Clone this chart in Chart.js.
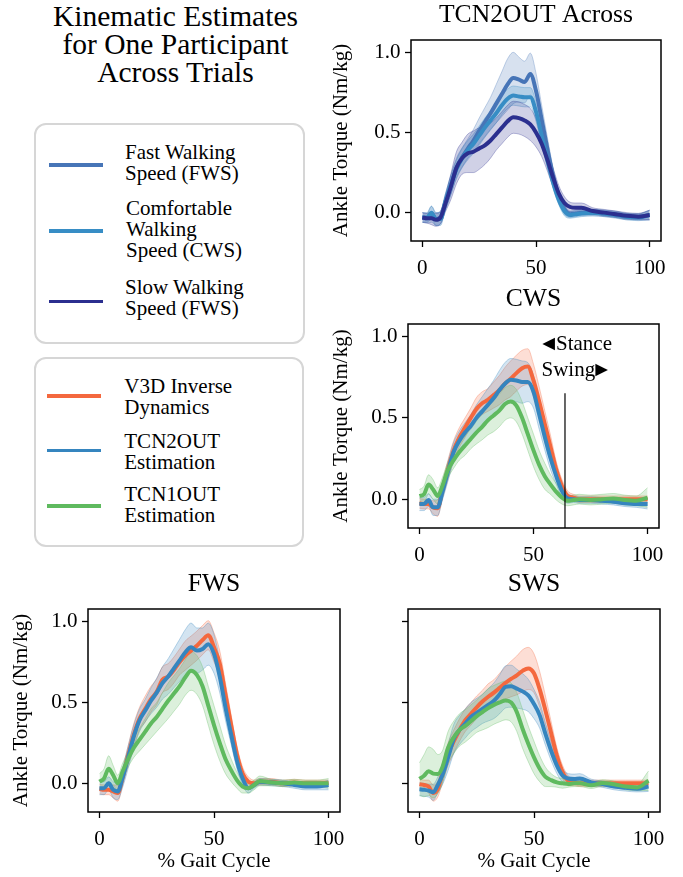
<!DOCTYPE html>
<html>
<head>
<meta charset="utf-8">
<title>Kinematic Estimates</title>
<script src="https://cdn.jsdelivr.net/npm/chart.js@4.4.1/dist/chart.umd.min.js"></script>
<style>
  html,body{margin:0;padding:0;background:#fff;}
  body{position:relative;width:683px;height:877px;overflow:hidden;color:#000;}
  .serif{font-family:'Liberation Serif','Tinos','Times New Roman','Nimbus Roman',serif;}
  canvas{position:absolute;}
  #suptitle{position:absolute;left:0;top:2px;width:351px;text-align:center;font-size:29.5px;line-height:28px;white-space:nowrap;}
  .legbox{position:absolute;border:2px solid #d6d6d6;border-radius:12px;box-sizing:border-box;background:#fff;}
  .sw{position:absolute;height:3.5px;}
  .lt{position:absolute;font-size:21px;line-height:21px;white-space:nowrap;}
  #phase{position:absolute;right:71px;top:330px;text-align:right;font-size:21px;line-height:26px;white-space:nowrap;z-index:5;}
  .arl{margin-right:-3px;}
  .arr{margin-left:-4px;}
</style>
</head>
<body>
<div id="suptitle" class="serif">Kinematic Estimates<br>for One Participant<br>Across Trials</div>

<div class="legbox" style="left:34px;top:123px;width:271px;height:221px"></div>
<div class="sw" id="sw1" style="left:49px;top:163px;width:54px"></div>
<div class="lt serif" style="left:125px;top:142.4px">Fast Walking<br>Speed (FWS)</div>
<div class="sw" id="sw2" style="left:49px;top:229px;width:54px"></div>
<div class="lt serif" style="left:126px;top:198.4px">Comfortable<br>Walking<br>Speed (CWS)</div>
<div class="sw" id="sw3" style="left:49px;top:299.6px;width:54px"></div>
<div class="lt serif" style="left:125px;top:276.7px">Slow Walking<br>Speed (FWS)</div>

<div class="legbox" style="left:34px;top:357px;width:270px;height:190px"></div>
<div class="sw" id="sw4" style="left:47px;top:394px;width:54px"></div>
<div class="lt serif" style="left:124.3px;top:375.7px">V3D Inverse<br>Dynamics</div>
<div class="sw" id="sw5" style="left:47px;top:448.6px;width:54px"></div>
<div class="lt serif" style="left:124.3px;top:430.7px">TCN2OUT<br>Estimation</div>
<div class="sw" id="sw6" style="left:47px;top:504px;width:54px"></div>
<div class="lt serif" style="left:124.3px;top:484.1px">TCN1OUT<br>Estimation</div>

<canvas id="c1" width="363" height="290" style="left:320px;top:0px"></canvas>
<canvas id="c2" width="363" height="293" style="left:320px;top:284px"></canvas>
<canvas id="c3" width="363" height="305" style="left:0px;top:569px"></canvas>
<canvas id="c4" width="363" height="305" style="left:320px;top:569px"></canvas>

<div id="phase" class="serif"><span class="arl">◄</span>Stance<br>Swing<span class="arr">►</span></div>

<script>
// ---------------- data ----------------
const X = [0,2,4,6,8,10,12.5,15,17.5,20,22.5,25,27.5,30,32.5,35,37.5,40,42.5,45,47.5,50,52.5,55,57.5,60,62.5,65,67.5,70,75,80,85,90,95,100];
const xTicks = [0,50,100];
const yTicks = [0,0.5,1.0];
const yMin = -0.177, yMax = 1.077;
const phaseX = 63.8;      // stance / swing boundary (% gait cycle)
const phaseTop = 0.652;

// Panel: TCN2OUT Across (speeds)
const acrossFWS = [
 -0.03,-0.035,-0.01,-0.04,-0.03,0.06,0.17,0.28,0.345,0.40,0.45,0.51,
 0.565,0.62,0.68,0.74,0.80,0.84,0.83,0.815,0.865,0.76,0.58,0.40,
 0.23,0.10,0.02,-0.01,-0.005,0.0,0.0,-0.005,-0.01,-0.025,-0.025,-0.015];
const acrossFWSsd = [
 0.03,0.03,0.05,0.04,0.04,0.05,0.06,0.06,0.06,0.06,0.07,0.08,
 0.09,0.10,0.12,0.14,0.16,0.16,0.14,0.13,0.13,0.11,0.09,0.07,
 0.05,0.03,0.03,0.02,0.02,0.02,0.02,0.02,0.02,0.02,0.02,0.03];
const acrossCWS = [
 -0.03,-0.03,0.0,-0.04,-0.04,0.06,0.17,0.27,0.34,0.39,0.43,0.48,
 0.53,0.575,0.62,0.67,0.71,0.73,0.725,0.72,0.72,0.63,0.48,0.33,
 0.19,0.08,0.01,-0.015,-0.01,-0.005,0.0,-0.005,-0.015,-0.025,-0.03,-0.015];
const acrossCWSsd = [
 0.03,0.03,0.04,0.04,0.04,0.05,0.06,0.06,0.06,0.06,0.06,0.06,
 0.06,0.06,0.06,0.06,0.06,0.06,0.06,0.06,0.06,0.06,0.06,0.05,
 0.04,0.03,0.03,0.02,0.02,0.02,0.02,0.02,0.02,0.02,0.02,0.03];
const acrossSWS = [
 -0.03,-0.035,-0.035,-0.045,-0.03,0.05,0.16,0.28,0.34,0.37,0.38,0.40,
 0.42,0.45,0.49,0.53,0.57,0.595,0.59,0.575,0.55,0.50,0.43,0.33,
 0.22,0.12,0.06,0.035,0.03,0.03,0.01,0.0,-0.01,-0.02,-0.025,-0.015];
const acrossSWSsd = [
 0.03,0.03,0.04,0.04,0.04,0.05,0.08,0.10,0.10,0.12,0.13,0.13,
 0.12,0.11,0.10,0.10,0.10,0.10,0.10,0.10,0.10,0.09,0.08,0.07,
 0.06,0.05,0.04,0.03,0.03,0.03,0.02,0.02,0.02,0.02,0.02,0.03];

// Panel: CWS
const cwsV3D = [
 -0.025,-0.03,-0.03,-0.05,-0.055,0.05,0.18,0.30,0.38,0.44,0.50,0.555,
 0.59,0.61,0.64,0.67,0.71,0.74,0.775,0.805,0.815,0.73,0.60,0.46,
 0.32,0.18,0.08,0.02,0.01,0.0,0.0,0.0,0.0,0.0,0.0,0.0];
const cwsV3Dsd = [
 0.03,0.03,0.03,0.04,0.05,0.05,0.06,0.06,0.06,0.06,0.06,0.07,
 0.07,0.07,0.08,0.09,0.10,0.11,0.11,0.11,0.11,0.10,0.09,0.08,
 0.07,0.05,0.04,0.03,0.02,0.02,0.02,0.02,0.02,0.02,0.02,0.02];
const cwsTCN2 = [
 -0.03,-0.03,-0.005,-0.05,-0.05,0.04,0.17,0.29,0.36,0.41,0.45,0.50,
 0.54,0.58,0.62,0.67,0.71,0.735,0.73,0.72,0.72,0.66,0.52,0.38,
 0.25,0.14,0.05,0.005,0.0,-0.005,-0.005,-0.01,-0.015,-0.025,-0.03,-0.03];
const cwsTCN2sd = [
 0.04,0.04,0.04,0.05,0.05,0.05,0.06,0.06,0.06,0.06,0.07,0.08,
 0.09,0.10,0.11,0.12,0.13,0.13,0.13,0.13,0.12,0.10,0.09,0.08,
 0.07,0.05,0.04,0.03,0.02,0.02,0.02,0.02,0.02,0.02,0.02,0.03];
const cwsTCN1 = [
 0.02,0.03,0.09,0.06,0.02,0.08,0.18,0.24,0.29,0.33,0.37,0.41,
 0.445,0.485,0.515,0.545,0.585,0.60,0.575,0.50,0.40,0.30,0.21,0.14,
 0.09,0.045,0.01,-0.01,-0.005,0.0,-0.005,0.0,0.005,-0.005,-0.01,0.01];
const cwsTCN1sd = [
 0.04,0.05,0.06,0.06,0.05,0.05,0.05,0.05,0.05,0.06,0.06,0.07,
 0.08,0.09,0.10,0.10,0.10,0.10,0.10,0.10,0.10,0.10,0.09,0.08,
 0.06,0.05,0.04,0.03,0.03,0.03,0.03,0.03,0.03,0.03,0.03,0.06];

// Panel: FWS
const fwsV3D = [
 -0.035,-0.04,-0.04,-0.05,-0.06,0.03,0.17,0.30,0.40,0.46,0.52,0.565,
 0.64,0.66,0.70,0.75,0.79,0.82,0.85,0.885,0.915,0.84,0.74,0.55,
 0.36,0.18,0.06,0.01,0.0,0.01,0.01,0.0,0.005,0.0,0.0,0.0];
const fwsV3Dsd = [
 0.03,0.03,0.03,0.04,0.05,0.05,0.06,0.07,0.07,0.08,0.08,0.08,
 0.08,0.08,0.08,0.08,0.09,0.09,0.09,0.09,0.09,0.09,0.08,0.07,
 0.06,0.05,0.04,0.03,0.02,0.02,0.02,0.02,0.02,0.02,0.02,0.02];
const fwsTCN2 = [
 -0.03,-0.03,0.0,-0.04,-0.05,0.03,0.16,0.29,0.39,0.45,0.51,0.56,
 0.62,0.66,0.71,0.76,0.81,0.84,0.82,0.83,0.86,0.80,0.66,0.47,
 0.30,0.14,0.03,-0.03,-0.01,0.01,0.005,0.0,-0.01,-0.02,-0.02,-0.01];
const fwsTCN2sd = [
 0.04,0.04,0.04,0.05,0.05,0.06,0.07,0.07,0.07,0.07,0.08,0.09,
 0.10,0.11,0.12,0.13,0.14,0.15,0.14,0.13,0.13,0.12,0.10,0.08,
 0.06,0.05,0.04,0.03,0.02,0.02,0.02,0.02,0.02,0.02,0.02,0.03];
const fwsTCN1 = [
 0.01,0.03,0.09,0.05,0.0,0.07,0.15,0.22,0.27,0.32,0.37,0.41,
 0.46,0.51,0.555,0.60,0.655,0.695,0.67,0.60,0.48,0.36,0.25,0.15,
 0.08,0.02,-0.02,-0.03,-0.01,0.015,0.005,0.0,0.005,0.0,0.0,0.0];
const fwsTCN1sd = [
 0.05,0.06,0.08,0.06,0.05,0.05,0.05,0.06,0.07,0.08,0.09,0.09,
 0.10,0.11,0.11,0.11,0.11,0.12,0.12,0.12,0.12,0.12,0.11,0.09,
 0.07,0.05,0.04,0.03,0.03,0.03,0.02,0.02,0.02,0.02,0.02,0.03];

// Panel: SWS
const swsV3D = [
 -0.005,-0.01,-0.02,-0.06,-0.035,0.06,0.18,0.26,0.33,0.39,0.43,0.47,
 0.505,0.535,0.56,0.59,0.62,0.645,0.667,0.695,0.71,0.68,0.58,0.45,
 0.31,0.17,0.07,0.015,0.005,0.0,0.0,0.0,0.0,0.0,0.0,0.0];
const swsV3Dsd = [
 0.03,0.03,0.04,0.05,0.05,0.06,0.07,0.07,0.07,0.07,0.07,0.07,
 0.07,0.08,0.08,0.09,0.10,0.11,0.12,0.13,0.13,0.12,0.11,0.09,
 0.07,0.05,0.04,0.03,0.02,0.02,0.02,0.02,0.02,0.02,0.02,0.02];
const swsTCN2 = [
 -0.037,-0.04,-0.045,-0.055,-0.01,0.05,0.16,0.275,0.33,0.37,0.41,0.435,
 0.46,0.485,0.51,0.55,0.595,0.60,0.585,0.568,0.543,0.49,0.42,0.305,
 0.20,0.11,0.048,0.03,0.027,0.03,0.006,-0.005,-0.02,-0.028,-0.033,-0.02];
const swsTCN2sd = [
 0.04,0.04,0.04,0.05,0.05,0.06,0.08,0.09,0.09,0.09,0.09,0.09,
 0.09,0.10,0.11,0.12,0.13,0.13,0.12,0.11,0.10,0.09,0.08,0.07,
 0.06,0.05,0.04,0.03,0.03,0.03,0.02,0.02,0.02,0.02,0.02,0.03];
const swsTCN1 = [
 0.027,0.047,0.075,0.06,0.058,0.10,0.22,0.285,0.33,0.355,0.385,0.415,
 0.44,0.465,0.485,0.50,0.512,0.50,0.44,0.337,0.244,0.16,0.09,0.04,
 0.02,0.006,0.0,-0.004,0.0,0.0,-0.012,0.002,-0.006,-0.02,-0.025,0.016];
const swsTCN1sd = [
 0.10,0.13,0.15,0.15,0.12,0.10,0.10,0.10,0.10,0.10,0.10,0.10,
 0.11,0.12,0.12,0.12,0.12,0.12,0.12,0.12,0.11,0.10,0.08,0.06,
 0.04,0.03,0.03,0.02,0.02,0.02,0.02,0.02,0.02,0.02,0.02,0.06];

// ---------------- styles ----------------
const FONT = "'Liberation Serif', 'Tinos', 'Times New Roman', serif";
const C_FWS = '#4775b7', C_CWS = '#378dc5', C_SWS = '#2b2f8f';
const C_V3D = '#f4683e', C_TCN2 = '#3585bf', C_TCN1 = '#5fba5f';

[['sw1',C_FWS],['sw2',C_CWS],['sw3',C_SWS],['sw4',C_V3D],['sw5',C_TCN2],['sw6',C_TCN1]]
  .forEach(([id,c]) => document.getElementById(id).style.background = c);

function rgba(hex, a){
  const n = parseInt(hex.slice(1),16);
  return `rgba(${(n>>16)&255},${(n>>8)&255},${n&255},${a})`;
}

function buildDatasets(series){
  const ds = [];
  series.forEach((s,i) => {
    const common = {pointRadius:0, cubicInterpolationMode:'monotone', borderColor:rgba(s.color,0.32), borderWidth:1};
    ds.push(Object.assign({data:X.map((x,k)=>({x, y:s.mean[k]+s.sd[k]})), backgroundColor:rgba(s.color,0.22), fill:'+1', order:100-i}, common));
    ds.push(Object.assign({data:X.map((x,k)=>({x, y:s.mean[k]-s.sd[k]})), fill:false, order:100-i}, common));
  });
  series.forEach((s,i) => {
    ds.push({data:X.map((x,k)=>({x, y:s.mean[k]})), borderColor:s.color, borderWidth:4,
             fill:false, pointRadius:0, cubicInterpolationMode:'monotone', order:50-i});
  });
  return ds;
}

const framePlugin = {
  id:'frame',
  afterDatasetsDraw(chart){
    const {ctx, chartArea:a} = chart;
    ctx.save();
    ctx.strokeStyle = '#000';
    ctx.lineWidth = 1.5;
    ctx.strokeRect(a.left, a.top, a.right-a.left, a.bottom-a.top);
    ctx.restore();
  }
};

function makeChart(id, datasets, o){
  const tickGrid = {display:true, drawOnChartArea:false, drawTicks:true, tickLength:6, tickWidth:1.3, tickColor:'#000', color:'#000'};
  return new Chart(document.getElementById(id), {
    type:'line',
    data:{datasets},
    options:{
      responsive:false, animation:false, events:[],
      layout:{padding:{left:0, top:0, right:o.padRight, bottom:0}},
      plugins:{
        legend:{display:false}, tooltip:{enabled:false},
        title:{display:true, text:o.title, fullSize:false, color:'#000',
               font:{family:FONT, size:25.6, weight:'normal', lineHeight:1.2},
               padding:{top:0, bottom:40 - 25.6*1.2}}
      },
      scales:{
        x:{type:'linear', min:-5, max:105,
           afterBuildTicks:s => { s.ticks = xTicks.map(v => ({value:v})); },
           afterFit:s => { s.height = o.xh; },
           ticks:{color:'#000', font:{family:FONT, size:21}, padding:9, maxRotation:0, autoSkip:false, callback:v => String(v)},
           grid:tickGrid, border:{display:false},
           title:{display:!!o.xTitle, text:o.xTitle || '', color:'#000', font:{family:FONT, size:21}, padding:{top:0, bottom:0}}},
        y:{type:'linear', min:yMin, max:yMax,
           afterBuildTicks:s => { s.ticks = yTicks.map(v => ({value:v})); },
           afterFit:s => { s.width = o.yw; },
           ticks:{color:'#000', font:{family:FONT, size:21}, padding:4.5, autoSkip:false,
                  callback:v => o.yLabels ? v.toFixed(1) : ''},
           grid:tickGrid, border:{display:false},
           title:{display:o.yLabels, text:'Ankle Torque (Nm/kg)', color:'#000', font:{family:FONT, size:21}, padding:{top:9, bottom:0}}}
      }
    },
    plugins:[framePlugin]
  });
}

function drawAll(){
  Chart.defaults.font.family = FONT;
  makeChart('c1', buildDatasets([
    {mean:acrossFWS, sd:acrossFWSsd, color:C_FWS},
    {mean:acrossCWS, sd:acrossCWSsd, color:C_CWS},
    {mean:acrossSWS, sd:acrossSWSsd, color:C_SWS}
  ]), {title:'TCN2OUT Across', yw:91, xh:49, padRight:22, yLabels:true});

  const ds2 = buildDatasets([
    {mean:cwsV3D, sd:cwsV3Dsd, color:C_V3D},
    {mean:cwsTCN2, sd:cwsTCN2sd, color:C_TCN2},
    {mean:cwsTCN1, sd:cwsTCN1sd, color:C_TCN1}
  ]);
  ds2.push({data:[{x:phaseX, y:yMin-0.2},{x:phaseX, y:phaseTop}], borderColor:'#000', borderWidth:1.2, pointRadius:0, fill:false, order:0});
  makeChart('c2', ds2, {title:'CWS', yw:88, xh:49, padRight:24, yLabels:true});

  makeChart('c3', buildDatasets([
    {mean:fwsV3D, sd:fwsV3Dsd, color:C_V3D},
    {mean:fwsTCN2, sd:fwsTCN2sd, color:C_TCN2},
    {mean:fwsTCN1, sd:fwsTCN1sd, color:C_TCN1}
  ]), {title:'FWS', yw:88, xh:62, padRight:23, yLabels:true, xTitle:'% Gait Cycle'});

  makeChart('c4', buildDatasets([
    {mean:swsV3D, sd:swsV3Dsd, color:C_V3D},
    {mean:swsTCN2, sd:swsTCN2sd, color:C_TCN2},
    {mean:swsTCN1, sd:swsTCN1sd, color:C_TCN1}
  ]), {title:'SWS', yw:88, xh:62, padRight:23, yLabels:false, xTitle:'% Gait Cycle'});
}

if (document.fonts && document.fonts.load) {
  document.fonts.load("21px 'Liberation Serif'").then(drawAll, drawAll);
} else {
  drawAll();
}
</script>
</body>
</html>
